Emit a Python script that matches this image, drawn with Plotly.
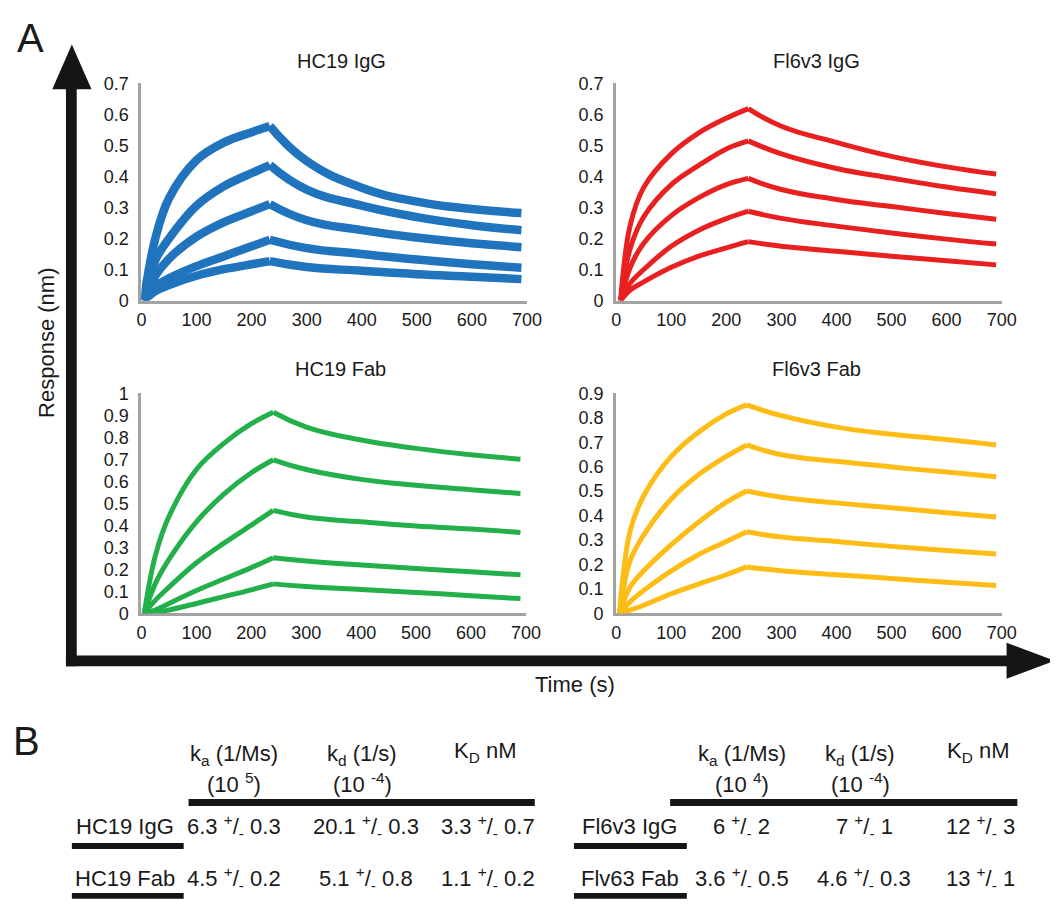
import plotly.graph_objects as go

# the page adds an 8px body margin, so the figure is 16px smaller than the window
OFF = 8
W, H = 1058 - 2 * OFF, 908 - 2 * OFF

# ---------------- data ----------------
panel_titles = ["HC19 IgG", "Fl6v3 IgG", "HC19 Fab", "Fl6v3 Fab"]
panel_colors = ["#1f74bd", "#e8201f", "#23b04a", "#fdbd16"]
peak_t = [233, 240, 240, 237]
t_assoc_start = [[4, 25, 50, 100, 150, 200], [8, 25, 50, 100, 150, 200],
                 [5, 25, 50, 100, 150, 200], [6, 25, 50, 100, 150, 200]]
t_dissoc_end = [300, 400, 500, 600, 690]

hc19_igg_assoc = [
    [0, 0.20, 0.33, 0.453, 0.51, 0.543, 0.563],
    [0, 0.13, 0.20, 0.306, 0.369, 0.411, 0.437],
    [0, 0.08, 0.135, 0.206, 0.253, 0.288, 0.311],
    [0, 0.045, 0.072, 0.111, 0.143, 0.175, 0.196],
    [0, 0.03, 0.05, 0.080, 0.101, 0.117, 0.127],
]
hc19_igg_dissoc = [
    [0.563, 0.450, 0.364, 0.319, 0.295, 0.282],
    [0.437, 0.358, 0.306, 0.269, 0.243, 0.227],
    [0.311, 0.259, 0.227, 0.203, 0.185, 0.172],
    [0.196, 0.169, 0.150, 0.132, 0.117, 0.106],
    [0.127, 0.108, 0.096, 0.085, 0.077, 0.069],
]
fl6v3_igg_assoc = [
    [0, 0.24, 0.365, 0.473, 0.541, 0.588, 0.619],
    [0, 0.165, 0.27, 0.374, 0.436, 0.489, 0.515],
    [0, 0.105, 0.185, 0.274, 0.332, 0.374, 0.394],
    [0, 0.055, 0.10, 0.175, 0.227, 0.264, 0.288],
    [0, 0.033, 0.06, 0.107, 0.143, 0.17, 0.19],
]
fl6v3_igg_dissoc = [
    [0.619, 0.562, 0.510, 0.465, 0.431, 0.408],
    [0.515, 0.473, 0.426, 0.395, 0.366, 0.344],
    [0.394, 0.358, 0.326, 0.303, 0.281, 0.262],
    [0.288, 0.265, 0.240, 0.218, 0.198, 0.182],
    [0.19, 0.175, 0.159, 0.143, 0.128, 0.115],
]
hc19_fab_assoc = [
    [0, 0.26, 0.44, 0.654, 0.773, 0.862, 0.914],
    [0, 0.134, 0.245, 0.416, 0.542, 0.639, 0.698],
    [0, 0.059, 0.119, 0.23, 0.319, 0.401, 0.468],
    [0, 0.015, 0.045, 0.104, 0.156, 0.208, 0.253],
    [0, 0.003, 0.015, 0.045, 0.076, 0.107, 0.134],
]
hc19_fab_dissoc = [
    [0.914, 0.847, 0.788, 0.75, 0.721, 0.701],
    [0.698, 0.654, 0.609, 0.582, 0.562, 0.545],
    [0.468, 0.438, 0.416, 0.397, 0.383, 0.368],
    [0.253, 0.238, 0.22, 0.204, 0.189, 0.175],
    [0.134, 0.122, 0.108, 0.095, 0.08, 0.067],
]
fl6v3_fab_assoc = [
    [0, 0.334, 0.481, 0.642, 0.742, 0.816, 0.853],
    [0, 0.214, 0.321, 0.468, 0.568, 0.642, 0.689],
    [0, 0.107, 0.174, 0.281, 0.374, 0.455, 0.501],
    [0, 0.047, 0.094, 0.174, 0.241, 0.294, 0.334],
    [0, 0.013, 0.033, 0.08, 0.12, 0.158, 0.19],
]
fl6v3_fab_dissoc = [
    [0.853, 0.809, 0.762, 0.733, 0.711, 0.689],
    [0.689, 0.649, 0.622, 0.599, 0.578, 0.559],
    [0.501, 0.475, 0.452, 0.432, 0.412, 0.394],
    [0.334, 0.312, 0.294, 0.274, 0.257, 0.243],
    [0.19, 0.174, 0.158, 0.143, 0.127, 0.114],
]
assoc_all = [hc19_igg_assoc, fl6v3_igg_assoc, hc19_fab_assoc, fl6v3_fab_assoc]
dissoc_all = [hc19_igg_dissoc, fl6v3_igg_dissoc, hc19_fab_dissoc, fl6v3_fab_dissoc]

y_max = [0.7, 0.7, 1.0, 0.9]
x_ticks = [0, 100, 200, 300, 400, 500, 600, 700]

left_rows = ["HC19 IgG", "HC19 Fab"]
left_ka = [("6.3", "0.3"), ("4.5", "0.2")]
left_kd = [("20.1", "0.3"), ("5.1", "0.8")]
left_KD = [("3.3", "0.7"), ("1.1", "0.2")]
left_ka_exp, left_kd_exp = "5", "-4"
right_rows = ["Fl6v3 IgG", "Flv63 Fab"]
right_ka = [("6", "2"), ("3.6", "0.5")]
right_kd = [("7", "1"), ("4.6", "0.3")]
right_KD = [("12", "3"), ("13", "1")]
right_ka_exp, right_kd_exp = "4", "-4"

# window pixel -> paper fraction
def PX(x):
    return (x - OFF) / W

def PY(y):
    return 1 - (y - OFF) / H

FONT = "Liberation Sans, Arial, Helvetica, sans-serif"
TXT = "#1a1a1a"

boxes = [(139, 532, 297, 75), (623, 1016, 297, 75), (139, 531, 617, 392), (623, 1016, 617, 392)]
title_pos = [(343, 52), (827, 52), (342, 367), (827, 367)]

fig = go.Figure()
layout = dict(
    width=W, height=H, margin=dict(l=0, r=0, t=0, b=0),
    paper_bgcolor="white", plot_bgcolor="rgba(0,0,0,0)",
    showlegend=False, font=dict(family=FONT, color=TXT),
)

for i in range(4):
    xa = "x" if i == 0 else f"x{i+1}"
    ya = "y" if i == 0 else f"y{i+1}"
    width = 8.5 if i == 0 else 5
    for c in range(5):
        ta = t_assoc_start[i] + [peak_t[i]]
        td = [peak_t[i]] + t_dissoc_end
        for tt, vv, sm in ((ta, assoc_all[i][c], 1.0), (td, dissoc_all[i][c], 1.3)):
            fig.add_trace(go.Scatter(
                x=tt, y=vv, mode="lines", xaxis=xa, yaxis=ya,
                line=dict(color=panel_colors[i], width=width, shape="spline", smoothing=sm),
                hoverinfo="skip", cliponaxis=False,
            ))
    x0, x1, yb, yt = boxes[i]
    ymax = y_max[i]
    nt = int(round(ymax * 10))
    yvals = [k / 10 for k in range(nt + 1)]
    ytext = ["0"] + [("1" if v == 1 else f"{v:.1f}") for v in yvals[1:]]
    key = "" if i == 0 else str(i + 1)
    layout["xaxis" + key] = dict(
        domain=[PX(x0), PX(x1)], range=[0, 700], anchor=ya,
        tickvals=x_ticks, ticktext=[str(v) for v in x_ticks],
        showline=True, linecolor="#a3a3a3", linewidth=3,
        showgrid=False, zeroline=False, ticks="outside", ticklen=1,
        tickcolor="rgba(0,0,0,0)", tickfont=dict(size=18, family=FONT, color=TXT),
        layer="below traces", fixedrange=True,
    )
    layout["yaxis" + key] = dict(
        domain=[PY(yb), PY(yt)], range=[0, ymax], anchor=xa,
        tickvals=yvals, ticktext=ytext,
        showline=True, linecolor="#a3a3a3", linewidth=3,
        showgrid=False, zeroline=False, ticks="outside", ticklen=6,
        tickcolor="rgba(0,0,0,0)", tickfont=dict(size=18, family=FONT, color=TXT),
        layer="below traces", fixedrange=True,
    )

annotations = []
def ann(text, x, y, size, xanchor="center", angle=0):
    annotations.append(dict(
        text=text, x=PX(x), y=PY(y), xref="paper", yref="paper",
        showarrow=False, xanchor=xanchor, yanchor="middle", textangle=angle,
        font=dict(size=size, family=FONT, color=TXT),
    ))

for i in range(4):
    ann(panel_titles[i], title_pos[i][0], title_pos[i][1], 20)

ann("A", 26, 28, 40)
ann("B", 22, 748, 40)
ann("Response (nm)", 42, 340, 22, angle=-90)
ann("Time (s)", 581, 690, 22)

shapes = []
DARK = "#151515"
def rect(x0, y0, x1, y1, color=DARK):
    shapes.append(dict(type="rect", xref="paper", yref="paper",
                       x0=PX(x0), x1=PX(x1), y0=PY(y1), y1=PY(y0),
                       fillcolor=color, line=dict(width=0)))
def tri(pts):
    p = "M " + " L ".join(f"{PX(a):.5f},{PY(b):.5f}" for a, b in pts) + " Z"
    shapes.append(dict(type="path", xref="paper", yref="paper", path=p,
                       fillcolor=DARK, line=dict(width=0)))

# big axis arrows
rect(62, 78, 73, 671)
tri([(48, 81), (88, 81), (68, 35)])
rect(62, 660, 1024, 671)
tri([(1021, 647), (1021, 684), (1070, 665.5)])

def pm(v):
    return f"{v[0]} <sup>+</sup>/<sub>-</sub> {v[1]}"

TS = 22
def table(rows, ka, kd, KD, ka_exp, kd_exp, cx, bar, lab_cx, ul):
    ann("k<sub>a</sub> (1/Ms)", cx[0], 762, TS)
    ann(f"(10 <sup>{ka_exp}</sup>)", cx[0], 791, TS)
    ann("k<sub>d</sub> (1/s)", cx[1], 762, TS)
    ann(f"(10 <sup>{kd_exp}</sup>)", cx[1], 791, TS)
    ann("K<sub>D</sub> nM", cx[2], 759, TS)
    rect(bar[0], 807, bar[1], 814)
    row_y = [835, 888]
    for r in range(2):
        ann(rows[r], lab_cx, row_y[r], TS)
        ann(pm(ka[r]), cx[0], row_y[r], TS)
        ann(pm(kd[r]), cx[1] + 4, row_y[r], TS)
        ann(pm(KD[r]), cx[2] + 2, row_y[r], TS)
        uy = 852 if r == 0 else 903
        rect(ul[0], uy, ul[1], uy + 6)

table(left_rows, left_ka, left_kd, left_KD, left_ka_exp, left_kd_exp,
      (233, 364, 490), (187, 540), 122, (68, 182))
table(right_rows, right_ka, right_kd, right_KD, right_ka_exp, right_kd_exp,
      (751, 872, 992), (678, 1032), 637, (580, 695))

layout["annotations"] = annotations
layout["shapes"] = shapes
fig.update_layout(**layout)
fig.write_html("out.html", config={"displayModeBar": False})
